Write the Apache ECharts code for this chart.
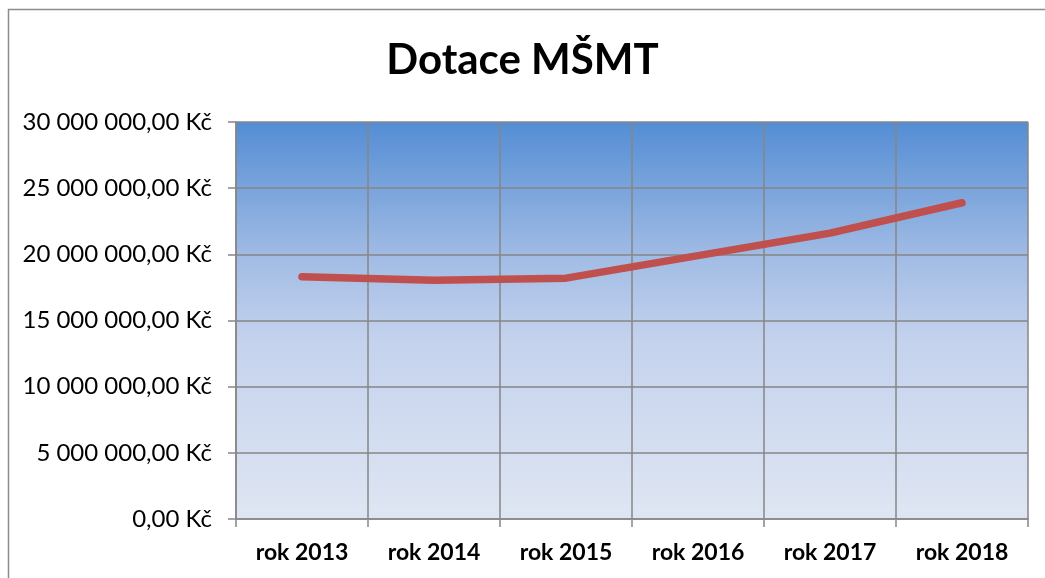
<!DOCTYPE html>
<html>
<head>
<meta charset="utf-8">
<script src="https://cdn.jsdelivr.net/npm/echarts@6/dist/echarts.min.js"></script>
<style>
html,body{margin:0;padding:0;background:#fff;}
#c{width:1045px;height:578px;}
</style>
</head>
<body>
<div id="c"></div>
<script>
var categories = ['rok 2013','rok 2014','rok 2015','rok 2016','rok 2017','rok 2018'];
var values = [18300000, 18050000, 18200000, 19900000, 21600000, 23900000];
var titleText = 'Dotace MŠMT';

function fmt(v){
  var s = Math.round(v).toString();
  s = s.replace(/\B(?=(\d{3})+(?!\d))/g, ' ');
  return s + ',00 Kč';
}

var chart = echarts.init(document.getElementById('c'));
chart.setOption({
  animation: false,
  backgroundColor: '#ffffff',
  title: {
    text: titleText,
    left: 'center',
    top: 34,
    textStyle: {fontFamily: 'Lato', fontWeight: 'bold', fontSize: 42, color: '#000'}
  },
  graphic: [{
    type: 'rect',
    shape: {x: 8.5, y: 9.5, width: 1100, height: 700},
    style: {fill: 'none', stroke: '#8c8c8c', lineWidth: 1.5},
    silent: true,
    z: -1
  }],
  grid: {
    left: 236, right: 17, top: 122, bottom: 59,
    show: true,
    borderWidth: 0,
    backgroundColor: new echarts.graphic.LinearGradient(0, 0, 0, 1, [
      {offset: 0, color: '#548DD4'},
      {offset: 0.35, color: '#A3BDE5'},
      {offset: 0.55, color: '#C4D2ED'},
      {offset: 1, color: '#DFE6F3'}
    ])
  },
  xAxis: {
    type: 'category',
    data: categories,
    boundaryGap: true,
    axisLine: {lineStyle: {color: '#868686', width: 1.5}},
    axisTick: {show: true, length: 8, alignWithLabel: false, lineStyle: {color: '#868686', width: 1.5}},
    splitLine: {show: true, lineStyle: {color: '#868686', width: 1.5}},
    axisLabel: {fontFamily: 'Lato', fontWeight: 'bold', fontSize: 23, color: '#000', margin: 22}
  },
  yAxis: {
    type: 'value',
    min: 0, max: 30000000, interval: 5000000,
    axisLine: {show: true, lineStyle: {color: '#868686', width: 1.5}},
    axisTick: {show: true, length: 8, lineStyle: {color: '#868686', width: 1.5}},
    splitLine: {show: true, lineStyle: {color: '#868686', width: 1.5}},
    axisLabel: {fontFamily: 'Lato', fontSize: 24, color: '#000', margin: 24, formatter: fmt}
  },
  series: [{
    type: 'line',
    data: values,
    showSymbol: false,
    symbol: 'none',
    smooth: false,
    lineStyle: {color: '#C0504D', width: 7.5, cap: 'round', join: 'round'}
  }]
});
</script>
</body>
</html>
